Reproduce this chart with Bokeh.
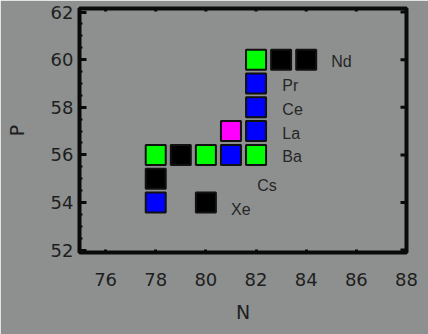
import math
from bokeh.plotting import figure
from bokeh.models import LinearAxis, FixedTicker, Range1d, ColumnDataSource
from bokeh.core.properties import value
from bokeh.embed import file_html
from bokeh.resources import INLINE

# Nuclides on the chart: neutron number N, proton number P, and fill colour
nuclide_n = [82, 83, 84, 82, 82, 81, 82, 78, 79, 80, 81, 82, 78, 78, 80]
nuclide_p = [60, 60, 60, 59, 58, 57, 57, 56, 56, 56, 56, 56, 55, 54, 54]
nuclide_color = ["#00ff00", "#000000", "#000000", "#0000ff", "#0000ff",
                 "#ff00ff", "#0000ff", "#00ff00", "#000000", "#00ff00",
                 "#0000ff", "#00ff00", "#000000", "#0000ff", "#000000"]

# Element names and where they sit
element_names = ["Nd", "Pr", "Ce", "La", "Ba", "Cs", "Xe"]
element_n = [85.0, 83.05, 83.05, 83.05, 83.05, 82.05, 81.0]
element_p = [60, 59, 58, 57, 56, 54.8, 53.8]

x_ticks = [76, 78, 80, 82, 84, 86, 88]
y_ticks = [52, 54, 56, 58, 60, 62]

X_LO, X_HI = 74.96, 88.0
Y_LO, Y_HI = 51.9, 62.15

BG = "#8d908f"
INK = "#1e1e1e"
FRAME = "#0a0a0a"
FONT = "DejaVu Sans"

p = figure(width=428, height=334, output_backend="svg", toolbar_location=None,
           x_range=Range1d(X_LO, X_HI), y_range=Range1d(Y_LO, Y_HI),
           x_axis_location=None, y_axis_location=None,
           min_border_left=79, min_border_right=22,
           min_border_top=8, min_border_bottom=82)
p.background_fill_color = BG
p.border_fill_color = BG
p.outline_line_color = FRAME
p.outline_line_width = 4
p.xgrid.visible = False
p.ygrid.visible = False


def style_axis(ax, tick_in, minor_in):
    ax.axis_line_color = None
    ax.major_tick_in = tick_in
    ax.major_tick_out = 0
    ax.major_tick_line_width = 3
    ax.major_tick_line_color = FRAME
    ax.minor_tick_in = minor_in
    ax.minor_tick_out = 0
    ax.minor_tick_line_width = 2
    ax.minor_tick_line_color = FRAME if minor_in else None
    ax.major_label_text_font = FONT
    ax.major_label_text_font_size = "18px"
    ax.major_label_text_color = INK
    ax.axis_label_text_font = FONT
    ax.axis_label_text_font_size = "19px"
    ax.axis_label_text_font_style = "normal"
    ax.axis_label_text_color = INK


bottom = LinearAxis(ticker=FixedTicker(ticks=x_ticks), axis_label="N")
style_axis(bottom, 3, 0)
bottom.major_label_standoff = 20
bottom.axis_label_standoff = 12
p.add_layout(bottom, "below")

y_minor = [52 + 0.5 * i for i in range(21)]
left = LinearAxis(ticker=FixedTicker(ticks=y_ticks, minor_ticks=y_minor), axis_label="P")
style_axis(left, 7, 3)
left.major_label_standoff = 6
left.axis_label_standoff = 20
p.add_layout(left, "left")

# Unlabelled tick marks along the top and right edges of the frame
# (dash markers centred on the edge; the frame clips the outer half)
p.scatter(x_ticks, [Y_HI] * len(x_ticks), marker="dash", size=6,
          angle=math.pi / 2, line_color=FRAME, line_width=3)
p.scatter([X_HI] * len(y_ticks), y_ticks, marker="dash", size=12,
          line_color=FRAME, line_width=3)

src = ColumnDataSource(dict(n=nuclide_n, p=nuclide_p, c=nuclide_color))
p.scatter("n", "p", source=src, marker="square", size=20,
          fill_color="c", line_color="#111111", line_width=2)

lab = ColumnDataSource(dict(n=element_n, p=element_p, t=element_names))
p.text("n", "p", text="t", source=lab, text_font=value("Liberation Sans"),
       text_font_size="16px", text_color="#262626",
       text_baseline="middle", text_align="left", y_offset=2)

open("out.html", "w").write(file_html(p, INLINE))
